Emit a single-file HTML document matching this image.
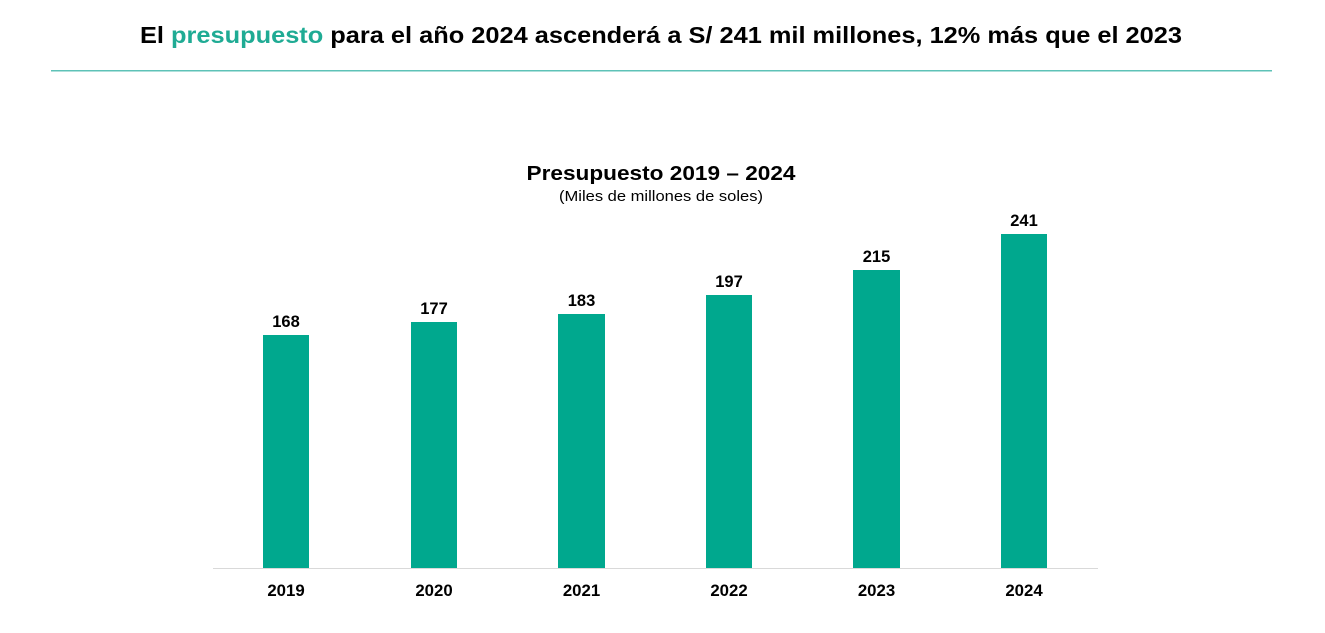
<!DOCTYPE html>
<html>
<head>
<meta charset="utf-8">
<style>
html,body{margin:0;padding:0;background:#fff;}
svg{display:block;}
text{font-family:"Liberation Sans",Arial,sans-serif;}
</style>
</head>
<body>
<svg width="1325" height="633" viewBox="0 0 1325 633" xmlns="http://www.w3.org/2000/svg">
<rect width="1325" height="633" fill="#fff"/>
<text x="661" y="43" text-anchor="middle" font-size="23.5" font-weight="bold" fill="#000" textLength="1042" lengthAdjust="spacingAndGlyphs">El <tspan fill="#1fab94">presupuesto</tspan> para el año 2024 ascenderá a S/ 241 mil millones, 12% más que el 2023</text>
<rect x="51" y="70" width="1221" height="1.5" fill="#5ec2b7"/>

<text x="661" y="180" text-anchor="middle" font-size="20.5" font-weight="bold" fill="#000" textLength="269" lengthAdjust="spacingAndGlyphs">Presupuesto 2019 – 2024</text>
<text x="661" y="201" text-anchor="middle" font-size="15" fill="#000" textLength="204" lengthAdjust="spacingAndGlyphs">(Miles de millones de soles)</text>

<rect x="213" y="568" width="885" height="1" fill="#d9d9d9"/>

<g fill="#00a88e">
<rect x="263" y="335" width="46" height="233"/>
<rect x="411" y="322" width="46" height="246"/>
<rect x="558" y="314" width="47" height="254"/>
<rect x="706" y="295" width="46" height="273"/>
<rect x="853" y="270" width="47" height="298"/>
<rect x="1001" y="234" width="46" height="334"/>
</g>

<g font-size="16.5" font-weight="bold" fill="#000" text-anchor="middle">
<text x="286" y="327">168</text>
<text x="434" y="314">177</text>
<text x="581.5" y="306">183</text>
<text x="729" y="287">197</text>
<text x="876.5" y="262">215</text>
<text x="1024" y="226">241</text>
</g>

<g font-size="16.8" font-weight="bold" fill="#000" text-anchor="middle">
<text x="286" y="596">2019</text>
<text x="434" y="596">2020</text>
<text x="581.5" y="596">2021</text>
<text x="729" y="596">2022</text>
<text x="876.5" y="596">2023</text>
<text x="1024" y="596">2024</text>
</g>
</svg>
</body>
</html>
